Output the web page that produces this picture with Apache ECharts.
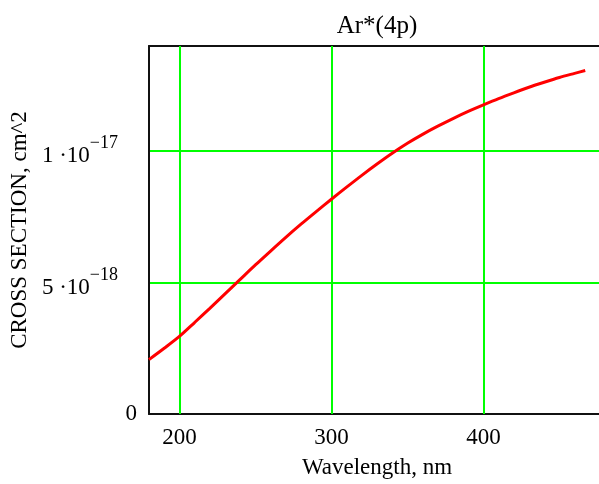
<!DOCTYPE html>
<html>
<head>
<meta charset="utf-8">
<title>Ar*(4p)</title>
<script src="https://cdn.jsdelivr.net/npm/echarts@6/dist/echarts.min.js"></script>
<style>
  html, body { margin: 0; padding: 0; background: #ffffff; overflow: hidden; }
  #chart { width: 599px; height: 484px; }
</style>
</head>
<body>
<div id="chart"></div>
<script>
// Photo-absorption cross section of Ar*(4p) versus wavelength.
// Cross sections are stored in units of 1e-18 cm^2.
const wavelengthNm = [180, 190, 200, 210, 220, 230, 240, 250, 260, 270, 280, 290, 300, 310, 320,
                      330, 340, 350, 360, 370, 380, 390, 400, 410, 420, 430, 440, 450, 460, 467];
const crossSection = [2.07, 2.5, 2.95, 3.48, 4.02, 4.57, 5.12, 5.67, 6.2, 6.72, 7.22, 7.7, 8.17, 8.63, 9.08,
                      9.51, 9.92, 10.3, 10.64, 10.95, 11.24, 11.51, 11.76, 12.0, 12.22, 12.43, 12.62, 12.8, 12.96, 13.07];

const xTicks = [200, 300, 400];
// tick label text for the y axis: mantissa and power of ten
const yTickLabels = { 0: ['0', ''], 5: ['5 \u00b710', '\u221218'], 10: ['1 \u00b710', '\u221217'] };

const FONT = '"Liberation Serif", "Times New Roman", serif';
const GRID_GREEN = '#00ff00';
const FRAME = '#111111';

const points = wavelengthNm.map((w, i) => [w, crossSection[i]]);

const chart = echarts.init(document.getElementById('chart'), null, { renderer: 'canvas' });

chart.setOption({
  backgroundColor: '#ffffff',
  animation: false,
  title: {
    text: 'Ar*(4p)',
    left: 372,
    top: 9,
    textAlign: 'center',
    textStyle: { fontFamily: FONT, fontSize: 25, fontWeight: 'normal', color: '#000' }
  },
  grid: {
    left: 149, top: 46, right: -6, bottom: 70,
    outerBoundsMode: 'none',
    containLabel: false,
    show: false
  },
  xAxis: [{
    type: 'value',
    min: 180, max: 480,
    name: 'Wavelength, nm',
    nameLocation: 'middle',
    nameGap: 42,
    nameTextStyle: { fontFamily: FONT, fontSize: 23, color: '#000' },
    axisLine: { show: true, lineStyle: { color: FRAME, width: 2 } },
    axisTick: { show: false },
    axisLabel: {
      customValues: xTicks,
      margin: 12,
      fontFamily: FONT, fontSize: 23, color: '#000'
    },
    splitLine: { show: false }
  }, {
    // frame line along the top of the plot
    type: 'value',
    position: 'top',
    min: 180, max: 480,
    axisLine: { show: true, onZero: false, lineStyle: { color: FRAME, width: 2 } },
    axisTick: { show: false },
    axisLabel: { show: false },
    splitLine: { show: false }
  }],
  yAxis: {
    type: 'value',
    min: 0, max: 14, interval: 5,
    name: 'CROSS SECTION, cm^2',
    nameLocation: 'middle',
    nameGap: 114,
    nameTextStyle: { fontFamily: FONT, fontSize: 23, color: '#000' },
    axisLine: { show: true, lineStyle: { color: FRAME, width: 2 } },
    axisTick: { show: false },
    axisLabel: {
      margin: 12,
      showMaxLabel: false,
      fontFamily: FONT, fontSize: 23, color: '#000',
      formatter: function (v) {
        const t = yTickLabels[v];
        if (!t) return '';
        if (!t[1]) return '{z|' + t[0] + '}';
        return '{m|' + t[0] + '}{e|' + t[1] + '}{s| }';
      },
      rich: {
        z: { fontFamily: FONT, fontSize: 23, color: '#000', lineHeight: 24 },
        m: { fontFamily: FONT, fontSize: 23, color: '#000', lineHeight: 26, verticalAlign: 'bottom' },
        e: { fontFamily: FONT, fontSize: 18, color: '#000', lineHeight: 15, verticalAlign: 'top' },
        s: { fontFamily: FONT, fontSize: 10, width: 19, lineHeight: 33 }
      }
    },
    splitLine: { show: true, showMinLine: false, showMaxLine: false,
                 lineStyle: { color: GRID_GREEN, width: 2 } }
  },
  series: [{
    type: 'line',
    xAxisIndex: 0,
    data: points,
    smooth: 0.3,
    showSymbol: false,
    lineStyle: { color: '#ff0000', width: 3 },
    z: 5,
    // vertical grid lines at the labelled wavelengths
    markLine: {
      silent: true,
      z: 1,
      animation: false,
      symbol: ['none', 'none'],
      label: { show: false },
      emphasis: { disabled: true },
      lineStyle: { color: GRID_GREEN, width: 2, type: 'solid' },
      data: xTicks.map(v => ({ xAxis: v }))
    }
  }]
});
</script>
</body>
</html>
